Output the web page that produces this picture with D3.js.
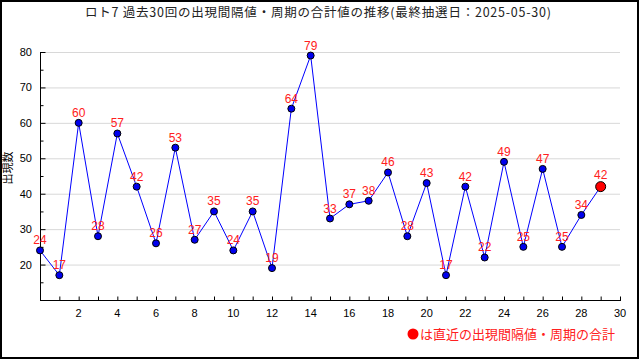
<!DOCTYPE html>
<html><head><meta charset="utf-8">
<script src="https://cdn.jsdelivr.net/npm/d3@7"></script>
<style>body{margin:0;background:#fff}svg{display:block}</style>
</head><body>
<script>
const titleText = "ロト7 過去30回の出現間隔値・周期の合計値の推移(最終抽選日：2025-05-30)";
const yLabel = "出現数";
const legendText = "は直近の出現間隔値・周期の合計";
const indices = d3.range(30);
const values = [24,17,60,28,57,42,26,53,27,35,24,35,19,64,79,33,37,38,46,28,43,17,42,22,49,25,47,25,34,42];
const yTicks = [20,30,40,50,60,70,80];
const xTickLabels = [2,4,6,8,10,12,14,16,18,20,22,24,26,28,30];

const W = 640, H = 360;
const svg = d3.select("body").append("svg").attr("width", W).attr("height", H);
svg.append("rect").attr("x",0).attr("y",0).attr("width",W).attr("height",H).attr("fill","#fff");
svg.append("rect").attr("x",1).attr("y",1).attr("width",W-3).attr("height",H-3)
  .attr("fill","none").attr("stroke","#000").attr("stroke-width",2);

const x = d3.scaleLinear().domain([0,30]).range([40,620]);
const y = d3.scaleLinear().domain([10,80]).range([300,52]);

// title
svg.append("text").attr("x",85).attr("y",16.5).attr("text-anchor","start")
  .attr("textLength",466).attr("lengthAdjust","spacing")
  .attr("font-family","'Noto Sans CJK JP'").attr("font-size",12.5).attr("fill","#222").text(titleText);

// grid
svg.append("g").selectAll("line").data(yTicks).join("line")
  .attr("x1",40).attr("x2",620).attr("y1",d=>y(d)+0.5).attr("y2",d=>y(d)+0.5)
  .attr("stroke","#d8d8d8").attr("stroke-width",1);

// y axis
const yAxis = svg.append("g").attr("transform","translate(40.5,0)")
  .call(d3.axisRight(y).tickValues(yTicks).tickSize(5).tickFormat(""));
yAxis.select(".domain").attr("d",`M0,${y(80)}V${y(10)}`).attr("stroke","#000");
const yMinor = svg.append("g").attr("transform","translate(40.5,0)")
  .call(d3.axisRight(y).tickValues(d3.range(15,80,10)).tickSize(3).tickFormat(""));
yMinor.select(".domain").remove();
svg.append("g").selectAll("text").data(yTicks).join("text")
  .attr("x",32).attr("y",d=>y(d)+4).attr("text-anchor","end")
  .attr("font-family","'Liberation Sans', Arial, sans-serif").attr("font-size",11).attr("fill","#000").text(d=>d);

// x axis
const xAxis = svg.append("g").attr("transform","translate(0,300.5)")
  .call(d3.axisTop(x).tickValues(d3.range(0,31)).tickSize(4).tickFormat(""));
xAxis.select(".domain").attr("d",`M40,0H621`).attr("stroke","#000");
xAxis.selectAll(".tick line").attr("stroke","#000");
svg.append("g").selectAll("text").data(xTickLabels).join("text")
  .attr("x",d=>x(d)).attr("y",317).attr("text-anchor","middle")
  .attr("font-family","'Liberation Sans', Arial, sans-serif").attr("font-size",11).attr("fill","#000").text(d=>d);

// y label
svg.append("text").attr("transform","translate(12,168) rotate(-90)").attr("text-anchor","middle")
  .attr("font-family","'Noto Sans CJK JP'").attr("font-size",11).attr("fill","#000").text(yLabel);

// line
svg.append("path").datum(values)
  .attr("d", d3.line().x((d,i)=>x(indices[i])).y(d=>y(d)))
  .attr("fill","none").attr("stroke","#0000ff").attr("stroke-width",1);

// points
svg.append("g").selectAll("circle").data(values).join("circle")
  .attr("cx",(d,i)=>x(indices[i])).attr("cy",d=>y(d))
  .attr("r",(d,i)=>i===values.length-1?5:3.5)
  .attr("fill",(d,i)=>i===values.length-1?"#ff0000":"#0000ee")
  .attr("stroke","#000").attr("stroke-width",1);

// labels
svg.append("g").selectAll("text").data(values).join("text")
  .attr("x",(d,i)=>x(indices[i])).attr("y",(d,i)=>y(d)-(i===values.length-1?8:6))
  .attr("text-anchor","middle")
  .attr("font-family","'Liberation Sans', Arial, sans-serif").attr("font-size",12).attr("fill","#ff2020").text(d=>d);

// legend
svg.append("circle").attr("cx",413).attr("cy",334).attr("r",5.5).attr("fill","#ff0000");
svg.append("text").attr("x",420).attr("y",339)
  .attr("font-family","'Noto Sans CJK JP'").attr("font-size",13).attr("fill","#ff2020").text(legendText);
</script>
</body></html>
